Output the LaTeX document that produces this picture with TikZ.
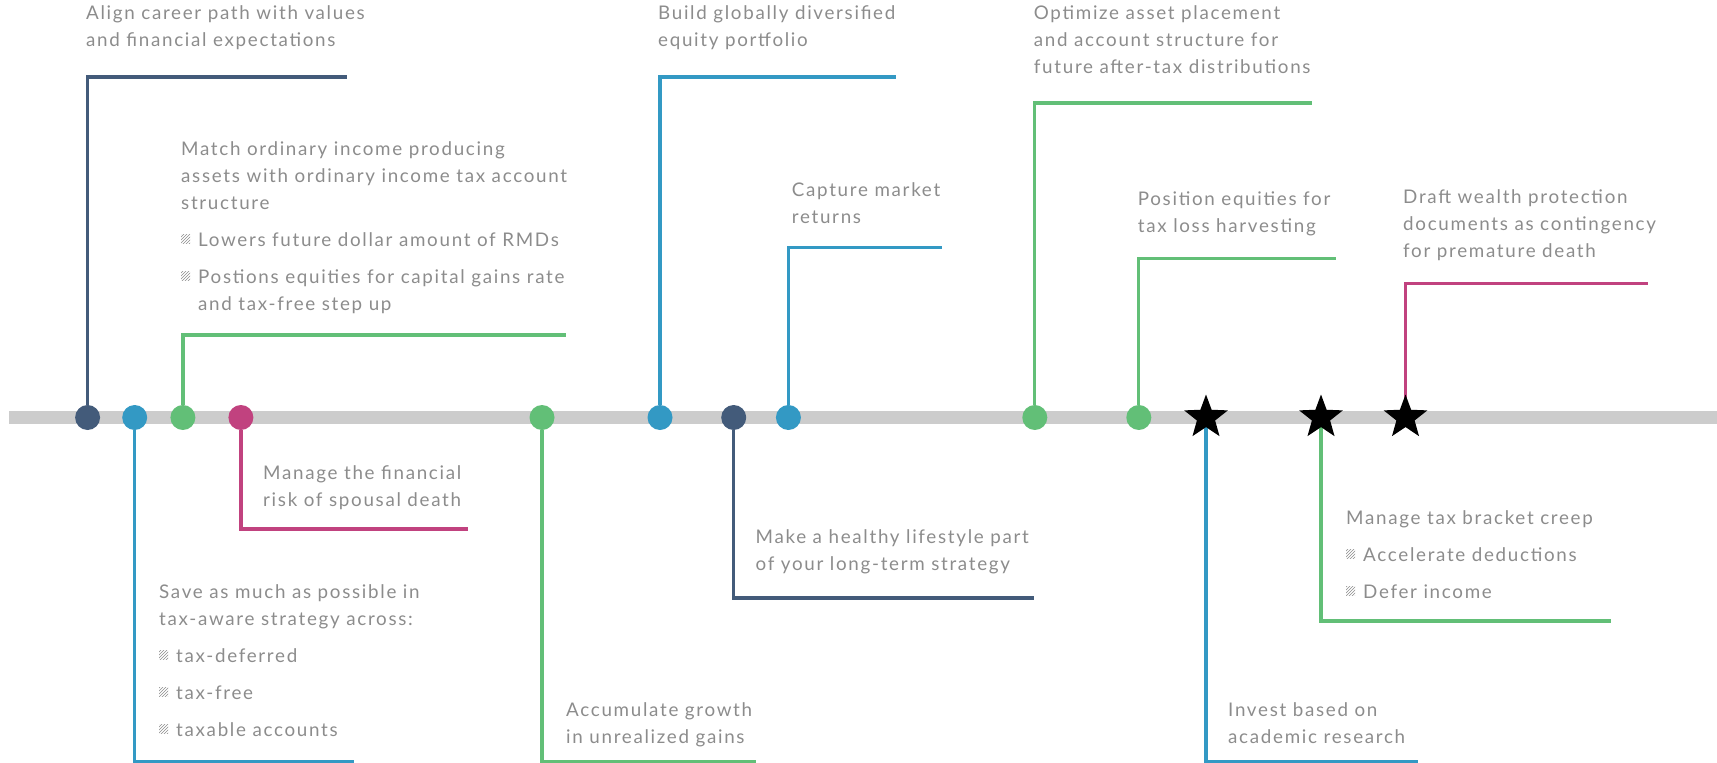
\documentclass[tikz,border=0pt]{standalone}
\usepackage{fontspec}
\setmainfont[LetterSpace=9]{Lato}
\usepackage{tikz}
\usetikzlibrary{shapes.geometric}
\usetikzlibrary{patterns}
\definecolor{navy}{HTML}{435B7A}
\definecolor{sky}{HTML}{3399C4}
\definecolor{leaf}{HTML}{62BF77}
\definecolor{berry}{HTML}{C1427F}
\definecolor{rail}{HTML}{CCCCCC}
\definecolor{textgray}{HTML}{8C8C8C}
\newcommand{\hatch}{\makebox[17pt][l]{\raisebox{3pt}{\tikz\path[pattern=north east lines, pattern color=textgray] (0,0) rectangle (9pt,9pt);}}}
\newcommand{\cont}{\hspace*{17pt}}
\tikzset{dot/.style = {circle, minimum size=25pt, inner sep=0pt},
         milestone/.style = {star, star points=5, star point ratio=2.4,
                             fill=black, minimum size=46pt, inner sep=0pt},
         txt/.style = {anchor=base west, align=left, inner sep=0pt,
                       text=textgray, font=\fontsize{18.8}{27}\selectfont},
         leg/.style = {line width=3.2pt}}

\begin{document}
\begin{tikzpicture}[x=1pt, y=-1pt]
      \useasboundingbox (0,0) rectangle (1717,763);
      \draw [rail, line width=13pt] (9,417.5) -- (1717,417.5);

      % stops on the timeline
      \node [dot, fill=navy] (d1) at (87.6,417.5) {};
      \node [dot, fill=sky] (d2) at (134.7,417.5) {};
      \node [dot, fill=leaf] (d3) at (182.9,417.5) {};
      \node [dot, fill=berry] (d4) at (240.9,417.5) {};
      \node [dot, fill=leaf] (d5) at (542,417.5) {};
      \node [dot, fill=sky] (d6) at (660,417.5) {};
      \node [dot, fill=navy] (d7) at (733.7,417.5) {};
      \node [dot, fill=sky] (d8) at (788.4,417.5) {};
      \node [dot, fill=leaf] (d9) at (1034.8,417.5) {};
      \node [dot, fill=leaf] (d10) at (1138.8,417.5) {};

      % corner ends of the legs
      \coordinate (e1) at (347,77);
      \coordinate (e2) at (353.7,761.5);
      \coordinate (e3) at (566,335);
      \coordinate (e4) at (467.6,529);
      \coordinate (e5) at (755.5,761.5);
      \coordinate (e6) at (895.7,77);
      \coordinate (e7) at (1033.7,598);
      \coordinate (e8) at (941.7,247.5);
      \coordinate (e9) at (1311.8,103);
      \coordinate (e10) at (1336,258.4);
      \coordinate (e11) at (1418,761.5);
      \coordinate (e12) at (1610.7,621);
      \coordinate (e13) at (1648,283.6);

      \draw [leg, navy] (d1) |- (e1);
      \draw [leg, sky] (d2) |- (e2);
      \draw [leg, leaf] (d3) |- (e3);
      \draw [leg, berry] (d4) |- (e4);
      \draw [leg, leaf] (d5) |- (e5);
      \draw [leg, sky] (d6) |- (e6);
      \draw [leg, navy] (d7) |- (e7);
      \draw [leg, sky] (d8) |- (e8);
      \draw [leg, leaf] (d9) |- (e9);
      \draw [leg, leaf] (d10) |- (e10);
      \draw [leg, sky] (1206,417.5) coordinate (c11) |- (e11);
      \draw [leg, leaf] (1321,417.5) coordinate (c12) |- (e12);
      \draw [leg, berry] (1405.5,417.5) coordinate (c13) |- (e13);

      \node [milestone] (s1) at (c11) {};
      \node [milestone] (s2) at (c12) {};
      \node [milestone] (s3) at (c13) {};

      % texts (anchored at the baseline of their last line)
      \node [txt] (t1) at (86,46) {Align career path with values\\and financial expectations};
      \node [txt] (t2) at (159,736) {Save as much as possible in\\tax-aware strategy across:\\[10pt]
        \hatch tax-deferred\\[10pt]\hatch tax-free\\[10pt]\hatch taxable accounts};
      \node [txt] (t3) at (181,310) {Match ordinary income producing\\assets with ordinary income tax account\\structure\\[10pt]
        \hatch Lowers future dollar amount of RMDs\\[10pt]
        \hatch Postions equities for capital gains rate\\\cont and tax-free step up};
      \node [txt] (t4) at (263,506) {Manage the financial\\risk of spousal death};
      \node [txt] (t5) at (566,743) {Accumulate growth\\in unrealized gains};
      \node [txt] (t6) at (658,46) {Build globally diversified\\equity portfolio};
      \node [txt] (t7) at (755.5,570) {Make a healthy lifestyle part\\of your long-term strategy};
      \node [txt] (t8) at (791.7,223) {Capture market\\returns};
      \node [txt] (t9) at (1033.7,73) {Optimize asset placement\\and account structure for\\future after-tax distributions};
      \node [txt] (t10) at (1137.7,232) {Position equities for\\tax loss harvesting};
      \node [txt] (t11) at (1228,743) {Invest based on\\academic research};
      \node [txt] (t12) at (1346,598) {Manage tax bracket creep\\[10pt]
        \hatch Accelerate deductions\\[10pt]\hatch Defer income};
      \node [txt] (t13) at (1403,257) {Draft wealth protection\\documents as contingency\\for premature death};

    \end{tikzpicture}
\end{document}
